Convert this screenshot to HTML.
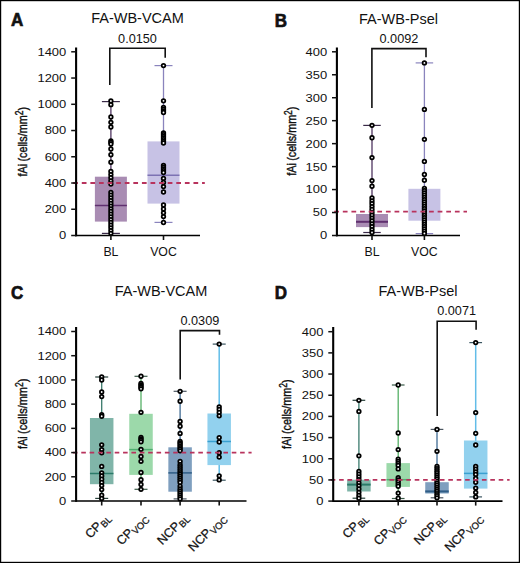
<!DOCTYPE html>
<html><head><meta charset="utf-8"><style>
html,body{margin:0;padding:0;background:#fff;overflow:hidden;}
svg{display:block;}
text{font-family:"Liberation Sans", sans-serif;fill:#111;}
</style></head><body>
<svg width="520" height="563" viewBox="0 0 520 563">
<rect x="0" y="0" width="520" height="563" fill="#fff"/>
<g transform="translate(10.9,25.6) scale(1,1.06)"><text x="0" y="0" font-size="17" font-weight="bold" stroke="#111" stroke-width="0.65">A</text></g>
<text x="137.5" y="23" font-size="14.5" text-anchor="middle" font-weight="normal" >FA-WB-VCAM</text>
<g transform="translate(27.3,0) rotate(-90)"><text x="-176.6" y="0" font-size="13.5" stroke="#111" stroke-width="0.4" lengthAdjust="spacingAndGlyphs" textLength="12.8">fAi</text><text x="-161.6" y="0" font-size="13.5" stroke="#111" stroke-width="0.4" lengthAdjust="spacingAndGlyphs" textLength="54.6">(cells/mm<tspan font-size="10.5" dy="-4.3">2</tspan><tspan dy="4.3">)</tspan></text></g>
<line x1="110.9" y1="101.6" x2="110.9" y2="233.4" stroke="#4f3560" stroke-width="1.3" />
<rect x="94.9" y="176.7" width="32" height="44.9" fill="#a98cb3"/>
<line x1="101.9" y1="101.6" x2="119.9" y2="101.6" stroke="#3a2a48" stroke-width="1.2" />
<line x1="101.9" y1="233.4" x2="119.9" y2="233.4" stroke="#3a2a48" stroke-width="1.2" />
<line x1="94.9" y1="205.4" x2="126.9" y2="205.4" stroke="#60306f" stroke-width="1.5" />
<line x1="163.5" y1="65.6" x2="163.5" y2="222.4" stroke="#8a84bd" stroke-width="1.3" />
<rect x="147.5" y="141.4" width="32" height="62.2" fill="#c7c2e5"/>
<line x1="154.5" y1="65.6" x2="172.5" y2="65.6" stroke="#8a84bd" stroke-width="1.2" />
<line x1="154.5" y1="222.4" x2="172.5" y2="222.4" stroke="#8a84bd" stroke-width="1.2" />
<line x1="147.5" y1="175.3" x2="179.5" y2="175.3" stroke="#7d72b3" stroke-width="1.5" />
<circle cx="110.9" cy="101" r="1.8" fill="#fff" stroke="#000" stroke-width="1.75"/>
<circle cx="110.9" cy="104.7" r="1.8" fill="#fff" stroke="#000" stroke-width="1.75"/>
<circle cx="110.9" cy="117" r="1.8" fill="#fff" stroke="#000" stroke-width="1.75"/>
<circle cx="110.9" cy="122.3" r="1.8" fill="#fff" stroke="#000" stroke-width="1.75"/>
<circle cx="110.9" cy="127" r="1.8" fill="#fff" stroke="#000" stroke-width="1.75"/>
<circle cx="110.9" cy="140.8" r="1.8" fill="#fff" stroke="#000" stroke-width="1.75"/>
<circle cx="110.9" cy="142.3" r="1.8" fill="#fff" stroke="#000" stroke-width="1.75"/>
<circle cx="110.9" cy="144" r="1.8" fill="#fff" stroke="#000" stroke-width="1.75"/>
<circle cx="110.9" cy="149" r="1.8" fill="#fff" stroke="#000" stroke-width="1.75"/>
<circle cx="110.9" cy="154.7" r="1.8" fill="#fff" stroke="#000" stroke-width="1.75"/>
<circle cx="110.9" cy="162.2" r="1.8" fill="#fff" stroke="#000" stroke-width="1.75"/>
<circle cx="110.9" cy="171.5" r="1.8" fill="#fff" stroke="#000" stroke-width="1.75"/>
<circle cx="110.9" cy="174.62" r="1.8" fill="#fff" stroke="#000" stroke-width="1.75"/>
<circle cx="110.9" cy="177.75" r="1.8" fill="#fff" stroke="#000" stroke-width="1.75"/>
<circle cx="110.9" cy="180.88" r="1.8" fill="#fff" stroke="#000" stroke-width="1.75"/>
<circle cx="110.9" cy="184" r="1.8" fill="#fff" stroke="#000" stroke-width="1.75"/>
<circle cx="110.9" cy="192.5" r="1.8" fill="#fff" stroke="#000" stroke-width="1.75"/>
<circle cx="110.9" cy="195.22" r="1.8" fill="#fff" stroke="#000" stroke-width="1.75"/>
<circle cx="110.9" cy="197.94" r="1.8" fill="#fff" stroke="#000" stroke-width="1.75"/>
<circle cx="110.9" cy="200.66" r="1.8" fill="#fff" stroke="#000" stroke-width="1.75"/>
<circle cx="110.9" cy="203.38" r="1.8" fill="#fff" stroke="#000" stroke-width="1.75"/>
<circle cx="110.9" cy="206.1" r="1.8" fill="#fff" stroke="#000" stroke-width="1.75"/>
<circle cx="110.9" cy="208.82" r="1.8" fill="#fff" stroke="#000" stroke-width="1.75"/>
<circle cx="110.9" cy="211.54" r="1.8" fill="#fff" stroke="#000" stroke-width="1.75"/>
<circle cx="110.9" cy="214.26" r="1.8" fill="#fff" stroke="#000" stroke-width="1.75"/>
<circle cx="110.9" cy="216.98" r="1.8" fill="#fff" stroke="#000" stroke-width="1.75"/>
<circle cx="110.9" cy="219.7" r="1.8" fill="#fff" stroke="#000" stroke-width="1.75"/>
<circle cx="110.9" cy="222.42" r="1.8" fill="#fff" stroke="#000" stroke-width="1.75"/>
<circle cx="110.9" cy="225.14" r="1.8" fill="#fff" stroke="#000" stroke-width="1.75"/>
<circle cx="110.9" cy="227.86" r="1.8" fill="#fff" stroke="#000" stroke-width="1.75"/>
<circle cx="110.9" cy="230.58" r="1.8" fill="#fff" stroke="#000" stroke-width="1.75"/>
<circle cx="110.9" cy="233.3" r="1.8" fill="#fff" stroke="#000" stroke-width="1.75"/>
<circle cx="163.5" cy="65.6" r="1.8" fill="#fff" stroke="#000" stroke-width="1.75"/>
<circle cx="163.5" cy="100.8" r="1.8" fill="#fff" stroke="#000" stroke-width="1.75"/>
<circle cx="163.5" cy="107.5" r="1.8" fill="#fff" stroke="#000" stroke-width="1.75"/>
<circle cx="163.5" cy="109.17" r="1.8" fill="#fff" stroke="#000" stroke-width="1.75"/>
<circle cx="163.5" cy="110.83" r="1.8" fill="#fff" stroke="#000" stroke-width="1.75"/>
<circle cx="163.5" cy="112.5" r="1.8" fill="#fff" stroke="#000" stroke-width="1.75"/>
<circle cx="163.5" cy="133" r="1.8" fill="#fff" stroke="#000" stroke-width="1.75"/>
<circle cx="163.5" cy="134.67" r="1.8" fill="#fff" stroke="#000" stroke-width="1.75"/>
<circle cx="163.5" cy="136.33" r="1.8" fill="#fff" stroke="#000" stroke-width="1.75"/>
<circle cx="163.5" cy="138" r="1.8" fill="#fff" stroke="#000" stroke-width="1.75"/>
<circle cx="163.5" cy="139.67" r="1.8" fill="#fff" stroke="#000" stroke-width="1.75"/>
<circle cx="163.5" cy="141.33" r="1.8" fill="#fff" stroke="#000" stroke-width="1.75"/>
<circle cx="163.5" cy="143" r="1.8" fill="#fff" stroke="#000" stroke-width="1.75"/>
<circle cx="163.5" cy="165.5" r="1.8" fill="#fff" stroke="#000" stroke-width="1.75"/>
<circle cx="163.5" cy="167.25" r="1.8" fill="#fff" stroke="#000" stroke-width="1.75"/>
<circle cx="163.5" cy="169" r="1.8" fill="#fff" stroke="#000" stroke-width="1.75"/>
<circle cx="163.5" cy="170.75" r="1.8" fill="#fff" stroke="#000" stroke-width="1.75"/>
<circle cx="163.5" cy="172.5" r="1.8" fill="#fff" stroke="#000" stroke-width="1.75"/>
<circle cx="163.5" cy="178.4" r="1.8" fill="#fff" stroke="#000" stroke-width="1.75"/>
<circle cx="163.5" cy="182.5" r="1.8" fill="#fff" stroke="#000" stroke-width="1.75"/>
<circle cx="163.5" cy="186.6" r="1.8" fill="#fff" stroke="#000" stroke-width="1.75"/>
<circle cx="163.5" cy="192" r="1.8" fill="#fff" stroke="#000" stroke-width="1.75"/>
<circle cx="163.5" cy="205" r="1.8" fill="#fff" stroke="#000" stroke-width="1.75"/>
<circle cx="163.5" cy="209" r="1.8" fill="#fff" stroke="#000" stroke-width="1.75"/>
<circle cx="163.5" cy="212.8" r="1.8" fill="#fff" stroke="#000" stroke-width="1.75"/>
<circle cx="163.5" cy="216.6" r="1.8" fill="#fff" stroke="#000" stroke-width="1.75"/>
<circle cx="163.5" cy="222.5" r="1.8" fill="#fff" stroke="#000" stroke-width="1.75"/>
<line x1="73.2" y1="183.01" x2="204.8" y2="183.01" stroke="#b8335d" stroke-width="1.8" stroke-dasharray="4.72 3.87"/>
<line x1="76.1" y1="47.5" x2="76.1" y2="236.3" stroke="#000" stroke-width="2.1" />
<line x1="75.1" y1="235.5" x2="200" y2="235.5" stroke="#000" stroke-width="1.7" />
<line x1="71.2" y1="235.5" x2="76.1" y2="235.5" stroke="#111" stroke-width="1.5" />
<g transform="translate(66.3,239.4) scale(1.03,0.93)"><text x="0" y="0" font-size="12.6" text-anchor="end">0</text></g>
<line x1="71.2" y1="209.26" x2="76.1" y2="209.26" stroke="#111" stroke-width="1.5" />
<g transform="translate(66.3,213.16) scale(1.03,0.93)"><text x="0" y="0" font-size="12.6" text-anchor="end">200</text></g>
<line x1="71.2" y1="183.01" x2="76.1" y2="183.01" stroke="#111" stroke-width="1.5" />
<g transform="translate(66.3,186.91) scale(1.03,0.93)"><text x="0" y="0" font-size="12.6" text-anchor="end">400</text></g>
<line x1="71.2" y1="156.77" x2="76.1" y2="156.77" stroke="#111" stroke-width="1.5" />
<g transform="translate(66.3,160.67) scale(1.03,0.93)"><text x="0" y="0" font-size="12.6" text-anchor="end">600</text></g>
<line x1="71.2" y1="130.53" x2="76.1" y2="130.53" stroke="#111" stroke-width="1.5" />
<g transform="translate(66.3,134.43) scale(1.03,0.93)"><text x="0" y="0" font-size="12.6" text-anchor="end">800</text></g>
<line x1="71.2" y1="104.29" x2="76.1" y2="104.29" stroke="#111" stroke-width="1.5" />
<g transform="translate(66.3,108.19) scale(1.03,0.93)"><text x="0" y="0" font-size="12.6" text-anchor="end">1000</text></g>
<line x1="71.2" y1="78.04" x2="76.1" y2="78.04" stroke="#111" stroke-width="1.5" />
<g transform="translate(66.3,81.94) scale(1.03,0.93)"><text x="0" y="0" font-size="12.6" text-anchor="end">1200</text></g>
<line x1="71.2" y1="51.8" x2="76.1" y2="51.8" stroke="#111" stroke-width="1.5" />
<g transform="translate(66.3,55.7) scale(1.03,0.93)"><text x="0" y="0" font-size="12.6" text-anchor="end">1400</text></g>
<line x1="110.9" y1="235.5" x2="110.9" y2="240" stroke="#111" stroke-width="1.6" />
<line x1="163.5" y1="235.5" x2="163.5" y2="240" stroke="#111" stroke-width="1.6" />
<text x="110.9" y="255.5" font-size="12.3" text-anchor="middle" font-weight="normal" >BL</text>
<text x="163.5" y="255.5" font-size="12.3" text-anchor="middle" font-weight="normal" >VOC</text>
<polyline points="109.8,85 109.8,48.2 165.2,48.2 165.2,57.7" fill="none" stroke="#111" stroke-width="1.6"/>
<text x="137.5" y="42.7" font-size="12.7" text-anchor="middle" font-weight="normal" >0.0150</text>
<g transform="translate(274.8,26.6) scale(1,1.06)"><text x="0" y="0" font-size="17" font-weight="bold" stroke="#111" stroke-width="0.65">B</text></g>
<text x="398.5" y="24.4" font-size="14.5" text-anchor="middle" font-weight="normal" >FA-WB-Psel</text>
<g transform="translate(296.4,0) rotate(-90)"><text x="-175.8" y="0" font-size="13.5" stroke="#111" stroke-width="0.4" lengthAdjust="spacingAndGlyphs" textLength="12.8">fAi</text><text x="-160.8" y="0" font-size="13.5" stroke="#111" stroke-width="0.4" lengthAdjust="spacingAndGlyphs" textLength="54.1">(cells/mm<tspan font-size="10.5" dy="-4.3">2</tspan><tspan dy="4.3">)</tspan></text></g>
<line x1="372" y1="125.4" x2="372" y2="232.5" stroke="#4f3560" stroke-width="1.3" />
<rect x="356" y="214" width="32" height="13.1" fill="#a98cb3"/>
<line x1="363.25" y1="125.4" x2="380.75" y2="125.4" stroke="#3a2a48" stroke-width="1.2" />
<line x1="363.25" y1="232.5" x2="380.75" y2="232.5" stroke="#3a2a48" stroke-width="1.2" />
<line x1="356" y1="221.8" x2="388" y2="221.8" stroke="#60306f" stroke-width="2" />
<line x1="424.4" y1="62.9" x2="424.4" y2="233.6" stroke="#8a84bd" stroke-width="1.3" />
<rect x="408.4" y="188.8" width="32" height="31.9" fill="#c7c2e5"/>
<line x1="415.65" y1="62.9" x2="433.15" y2="62.9" stroke="#8a84bd" stroke-width="1.2" />
<line x1="415.65" y1="233.6" x2="433.15" y2="233.6" stroke="#8a84bd" stroke-width="1.2" />
<line x1="408.4" y1="211.8" x2="440.4" y2="211.8" stroke="#c7c2e5" stroke-width="1" />
<circle cx="372" cy="125.3" r="1.8" fill="#fff" stroke="#000" stroke-width="1.75"/>
<circle cx="372" cy="137.7" r="1.8" fill="#fff" stroke="#000" stroke-width="1.75"/>
<circle cx="372" cy="157.6" r="1.8" fill="#fff" stroke="#000" stroke-width="1.75"/>
<circle cx="372" cy="180.6" r="1.8" fill="#fff" stroke="#000" stroke-width="1.75"/>
<circle cx="372" cy="186.2" r="1.8" fill="#fff" stroke="#000" stroke-width="1.75"/>
<circle cx="372" cy="198" r="1.8" fill="#fff" stroke="#000" stroke-width="1.75"/>
<circle cx="372" cy="200.88" r="1.8" fill="#fff" stroke="#000" stroke-width="1.75"/>
<circle cx="372" cy="203.75" r="1.8" fill="#fff" stroke="#000" stroke-width="1.75"/>
<circle cx="372" cy="206.62" r="1.8" fill="#fff" stroke="#000" stroke-width="1.75"/>
<circle cx="372" cy="209.5" r="1.8" fill="#fff" stroke="#000" stroke-width="1.75"/>
<circle cx="372" cy="212.38" r="1.8" fill="#fff" stroke="#000" stroke-width="1.75"/>
<circle cx="372" cy="215.25" r="1.8" fill="#fff" stroke="#000" stroke-width="1.75"/>
<circle cx="372" cy="218.12" r="1.8" fill="#fff" stroke="#000" stroke-width="1.75"/>
<circle cx="372" cy="221" r="1.8" fill="#fff" stroke="#000" stroke-width="1.75"/>
<circle cx="372" cy="223.88" r="1.8" fill="#fff" stroke="#000" stroke-width="1.75"/>
<circle cx="372" cy="226.75" r="1.8" fill="#fff" stroke="#000" stroke-width="1.75"/>
<circle cx="372" cy="229.62" r="1.8" fill="#fff" stroke="#000" stroke-width="1.75"/>
<circle cx="372" cy="232.5" r="1.8" fill="#fff" stroke="#000" stroke-width="1.75"/>
<circle cx="424.4" cy="62.9" r="1.8" fill="#fff" stroke="#000" stroke-width="1.75"/>
<circle cx="424.4" cy="109.4" r="1.8" fill="#fff" stroke="#000" stroke-width="1.75"/>
<circle cx="424.4" cy="139.3" r="1.8" fill="#fff" stroke="#000" stroke-width="1.75"/>
<circle cx="424.4" cy="161.4" r="1.8" fill="#fff" stroke="#000" stroke-width="1.75"/>
<circle cx="424.4" cy="174.5" r="1.8" fill="#fff" stroke="#000" stroke-width="1.75"/>
<circle cx="424.4" cy="180.2" r="1.8" fill="#fff" stroke="#000" stroke-width="1.75"/>
<circle cx="424.4" cy="188.3" r="1.8" fill="#fff" stroke="#000" stroke-width="1.75"/>
<circle cx="424.4" cy="190.56" r="1.8" fill="#fff" stroke="#000" stroke-width="1.75"/>
<circle cx="424.4" cy="192.82" r="1.8" fill="#fff" stroke="#000" stroke-width="1.75"/>
<circle cx="424.4" cy="195.08" r="1.8" fill="#fff" stroke="#000" stroke-width="1.75"/>
<circle cx="424.4" cy="197.34" r="1.8" fill="#fff" stroke="#000" stroke-width="1.75"/>
<circle cx="424.4" cy="199.6" r="1.8" fill="#fff" stroke="#000" stroke-width="1.75"/>
<circle cx="424.4" cy="201.86" r="1.8" fill="#fff" stroke="#000" stroke-width="1.75"/>
<circle cx="424.4" cy="204.12" r="1.8" fill="#fff" stroke="#000" stroke-width="1.75"/>
<circle cx="424.4" cy="206.38" r="1.8" fill="#fff" stroke="#000" stroke-width="1.75"/>
<circle cx="424.4" cy="208.64" r="1.8" fill="#fff" stroke="#000" stroke-width="1.75"/>
<circle cx="424.4" cy="210.9" r="1.8" fill="#fff" stroke="#000" stroke-width="1.75"/>
<circle cx="424.4" cy="213.16" r="1.8" fill="#fff" stroke="#000" stroke-width="1.75"/>
<circle cx="424.4" cy="215.42" r="1.8" fill="#fff" stroke="#000" stroke-width="1.75"/>
<circle cx="424.4" cy="217.68" r="1.8" fill="#fff" stroke="#000" stroke-width="1.75"/>
<circle cx="424.4" cy="219.94" r="1.8" fill="#fff" stroke="#000" stroke-width="1.75"/>
<circle cx="424.4" cy="222.2" r="1.8" fill="#fff" stroke="#000" stroke-width="1.75"/>
<circle cx="424.4" cy="224.46" r="1.8" fill="#fff" stroke="#000" stroke-width="1.75"/>
<circle cx="424.4" cy="226.72" r="1.8" fill="#fff" stroke="#000" stroke-width="1.75"/>
<circle cx="424.4" cy="228.98" r="1.8" fill="#fff" stroke="#000" stroke-width="1.75"/>
<circle cx="424.4" cy="231.24" r="1.8" fill="#fff" stroke="#000" stroke-width="1.75"/>
<circle cx="424.4" cy="233.5" r="1.8" fill="#fff" stroke="#000" stroke-width="1.75"/>
<line x1="334.2" y1="211.62" x2="467" y2="211.62" stroke="#b8335d" stroke-width="1.8" stroke-dasharray="4.74 3.88"/>
<line x1="336.9" y1="47.5" x2="336.9" y2="236.3" stroke="#000" stroke-width="2.1" />
<line x1="335.9" y1="235.5" x2="460" y2="235.5" stroke="#000" stroke-width="1.7" />
<line x1="332" y1="235.5" x2="336.9" y2="235.5" stroke="#111" stroke-width="1.5" />
<g transform="translate(327.1,239.4) scale(1.03,0.93)"><text x="0" y="0" font-size="12.6" text-anchor="end">0</text></g>
<line x1="332" y1="212.54" x2="336.9" y2="212.54" stroke="#111" stroke-width="1.5" />
<g transform="translate(327.1,216.44) scale(1.03,0.93)"><text x="0" y="0" font-size="12.6" text-anchor="end">50</text></g>
<line x1="332" y1="189.57" x2="336.9" y2="189.57" stroke="#111" stroke-width="1.5" />
<g transform="translate(327.1,193.47) scale(1.03,0.93)"><text x="0" y="0" font-size="12.6" text-anchor="end">100</text></g>
<line x1="332" y1="166.61" x2="336.9" y2="166.61" stroke="#111" stroke-width="1.5" />
<g transform="translate(327.1,170.51) scale(1.03,0.93)"><text x="0" y="0" font-size="12.6" text-anchor="end">150</text></g>
<line x1="332" y1="143.65" x2="336.9" y2="143.65" stroke="#111" stroke-width="1.5" />
<g transform="translate(327.1,147.55) scale(1.03,0.93)"><text x="0" y="0" font-size="12.6" text-anchor="end">200</text></g>
<line x1="332" y1="120.69" x2="336.9" y2="120.69" stroke="#111" stroke-width="1.5" />
<g transform="translate(327.1,124.59) scale(1.03,0.93)"><text x="0" y="0" font-size="12.6" text-anchor="end">250</text></g>
<line x1="332" y1="97.72" x2="336.9" y2="97.72" stroke="#111" stroke-width="1.5" />
<g transform="translate(327.1,101.62) scale(1.03,0.93)"><text x="0" y="0" font-size="12.6" text-anchor="end">300</text></g>
<line x1="332" y1="74.76" x2="336.9" y2="74.76" stroke="#111" stroke-width="1.5" />
<g transform="translate(327.1,78.66) scale(1.03,0.93)"><text x="0" y="0" font-size="12.6" text-anchor="end">350</text></g>
<line x1="332" y1="51.8" x2="336.9" y2="51.8" stroke="#111" stroke-width="1.5" />
<g transform="translate(327.1,55.7) scale(1.03,0.93)"><text x="0" y="0" font-size="12.6" text-anchor="end">400</text></g>
<line x1="372" y1="235.5" x2="372" y2="240" stroke="#111" stroke-width="1.6" />
<line x1="424.4" y1="235.5" x2="424.4" y2="240" stroke="#111" stroke-width="1.6" />
<text x="372" y="255.5" font-size="12.3" text-anchor="middle" font-weight="normal" >BL</text>
<text x="424.4" y="255.5" font-size="12.3" text-anchor="middle" font-weight="normal" >VOC</text>
<polyline points="371.9,108 371.9,48.6 426,48.6 426,57.2" fill="none" stroke="#111" stroke-width="1.6"/>
<text x="398.95" y="43.3" font-size="12.7" text-anchor="middle" font-weight="normal" >0.0092</text>
<g transform="translate(11.1,298.9) scale(1,1.06)"><text x="0" y="0" font-size="17" font-weight="bold" stroke="#111" stroke-width="0.65">C</text></g>
<text x="161" y="296" font-size="14.5" text-anchor="middle" font-weight="normal" >FA-WB-VCAM</text>
<g transform="translate(26.8,0) rotate(-90)"><text x="-449" y="0" font-size="13.5" stroke="#111" stroke-width="0.4" lengthAdjust="spacingAndGlyphs" textLength="12.8">fAi</text><text x="-434" y="0" font-size="13.5" stroke="#111" stroke-width="0.4" lengthAdjust="spacingAndGlyphs" textLength="55.4">(cells/mm<tspan font-size="10.5" dy="-4.3">2</tspan><tspan dy="4.3">)</tspan></text></g>
<line x1="101.7" y1="377" x2="101.7" y2="498.4" stroke="#3a7a6c" stroke-width="1.3" />
<rect x="89.95" y="418" width="23.5" height="66.2" fill="#80b5a9"/>
<line x1="95.2" y1="377" x2="108.2" y2="377" stroke="#27403a" stroke-width="1.2" />
<line x1="95.2" y1="498.4" x2="108.2" y2="498.4" stroke="#27403a" stroke-width="1.2" />
<line x1="89.95" y1="473.5" x2="113.45" y2="473.5" stroke="#2b7a69" stroke-width="1.5" />
<line x1="141" y1="376.3" x2="141" y2="489.3" stroke="#56b066" stroke-width="1.3" />
<rect x="129.25" y="413.8" width="23.5" height="61.1" fill="#9cd9aa"/>
<line x1="134.5" y1="376.3" x2="147.5" y2="376.3" stroke="#3a5a48" stroke-width="1.2" />
<line x1="134.5" y1="489.3" x2="147.5" y2="489.3" stroke="#3a5a48" stroke-width="1.2" />
<line x1="129.25" y1="449.6" x2="152.75" y2="449.6" stroke="#4fae70" stroke-width="1.5" />
<line x1="180.1" y1="391.3" x2="180.1" y2="498.9" stroke="#3f6a92" stroke-width="1.3" />
<rect x="168.35" y="447.3" width="23.5" height="44.4" fill="#7f9fbf"/>
<line x1="173.6" y1="391.3" x2="186.6" y2="391.3" stroke="#4a5560" stroke-width="1.2" />
<line x1="173.6" y1="498.9" x2="186.6" y2="498.9" stroke="#4a5560" stroke-width="1.2" />
<line x1="168.35" y1="472.9" x2="191.85" y2="472.9" stroke="#2f5d86" stroke-width="1.5" />
<line x1="219.2" y1="344.1" x2="219.2" y2="480.2" stroke="#62bde8" stroke-width="1.5" />
<rect x="207.45" y="413.5" width="23.5" height="51.6" fill="#92d1ee"/>
<line x1="212.7" y1="344.1" x2="225.7" y2="344.1" stroke="#3a5560" stroke-width="1.2" />
<line x1="212.7" y1="480.2" x2="225.7" y2="480.2" stroke="#3a5560" stroke-width="1.2" />
<line x1="207.45" y1="441.5" x2="230.95" y2="441.5" stroke="#3aa0d0" stroke-width="1.5" />
<circle cx="101.7" cy="376.9" r="1.8" fill="#fff" stroke="#000" stroke-width="1.75"/>
<circle cx="101.7" cy="380" r="1.8" fill="#fff" stroke="#000" stroke-width="1.75"/>
<circle cx="101.7" cy="392" r="1.8" fill="#fff" stroke="#000" stroke-width="1.75"/>
<circle cx="101.7" cy="396.6" r="1.8" fill="#fff" stroke="#000" stroke-width="1.75"/>
<circle cx="101.7" cy="414.6" r="1.8" fill="#fff" stroke="#000" stroke-width="1.75"/>
<circle cx="101.7" cy="416.2" r="1.8" fill="#fff" stroke="#000" stroke-width="1.75"/>
<circle cx="101.7" cy="444.8" r="1.8" fill="#fff" stroke="#000" stroke-width="1.75"/>
<circle cx="101.7" cy="449.6" r="1.8" fill="#fff" stroke="#000" stroke-width="1.75"/>
<circle cx="101.7" cy="452.8" r="1.8" fill="#fff" stroke="#000" stroke-width="1.75"/>
<circle cx="101.7" cy="466.4" r="1.8" fill="#fff" stroke="#000" stroke-width="1.75"/>
<circle cx="101.7" cy="472.8" r="1.8" fill="#fff" stroke="#000" stroke-width="1.75"/>
<circle cx="101.7" cy="476" r="1.8" fill="#fff" stroke="#000" stroke-width="1.75"/>
<circle cx="101.7" cy="479.2" r="1.8" fill="#fff" stroke="#000" stroke-width="1.75"/>
<circle cx="101.7" cy="482.4" r="1.8" fill="#fff" stroke="#000" stroke-width="1.75"/>
<circle cx="101.7" cy="485.6" r="1.8" fill="#fff" stroke="#000" stroke-width="1.75"/>
<circle cx="101.7" cy="489.6" r="1.8" fill="#fff" stroke="#000" stroke-width="1.75"/>
<circle cx="101.7" cy="495.2" r="1.8" fill="#fff" stroke="#000" stroke-width="1.75"/>
<circle cx="101.7" cy="498.4" r="1.8" fill="#fff" stroke="#000" stroke-width="1.75"/>
<circle cx="141" cy="376.2" r="1.8" fill="#fff" stroke="#000" stroke-width="1.75"/>
<circle cx="141" cy="383.5" r="1.8" fill="#fff" stroke="#000" stroke-width="1.75"/>
<circle cx="141" cy="384.82" r="1.8" fill="#fff" stroke="#000" stroke-width="1.75"/>
<circle cx="141" cy="386.15" r="1.8" fill="#fff" stroke="#000" stroke-width="1.75"/>
<circle cx="141" cy="387.48" r="1.8" fill="#fff" stroke="#000" stroke-width="1.75"/>
<circle cx="141" cy="388.8" r="1.8" fill="#fff" stroke="#000" stroke-width="1.75"/>
<circle cx="141" cy="412.3" r="1.8" fill="#fff" stroke="#000" stroke-width="1.75"/>
<circle cx="141" cy="437.5" r="1.8" fill="#fff" stroke="#000" stroke-width="1.75"/>
<circle cx="141" cy="438.93" r="1.8" fill="#fff" stroke="#000" stroke-width="1.75"/>
<circle cx="141" cy="440.37" r="1.8" fill="#fff" stroke="#000" stroke-width="1.75"/>
<circle cx="141" cy="441.8" r="1.8" fill="#fff" stroke="#000" stroke-width="1.75"/>
<circle cx="141" cy="449.3" r="1.8" fill="#fff" stroke="#000" stroke-width="1.75"/>
<circle cx="141" cy="456.5" r="1.8" fill="#fff" stroke="#000" stroke-width="1.75"/>
<circle cx="141" cy="461.3" r="1.8" fill="#fff" stroke="#000" stroke-width="1.75"/>
<circle cx="141" cy="472.5" r="1.8" fill="#fff" stroke="#000" stroke-width="1.75"/>
<circle cx="141" cy="479.7" r="1.8" fill="#fff" stroke="#000" stroke-width="1.75"/>
<circle cx="141" cy="484.5" r="1.8" fill="#fff" stroke="#000" stroke-width="1.75"/>
<circle cx="141" cy="489.3" r="1.8" fill="#fff" stroke="#000" stroke-width="1.75"/>
<circle cx="180.1" cy="391.3" r="1.8" fill="#fff" stroke="#000" stroke-width="1.75"/>
<circle cx="180.1" cy="401.2" r="1.8" fill="#fff" stroke="#000" stroke-width="1.75"/>
<circle cx="180.1" cy="421.4" r="1.8" fill="#fff" stroke="#000" stroke-width="1.75"/>
<circle cx="180.1" cy="426.2" r="1.8" fill="#fff" stroke="#000" stroke-width="1.75"/>
<circle cx="180.1" cy="433.4" r="1.8" fill="#fff" stroke="#000" stroke-width="1.75"/>
<circle cx="180.1" cy="441.4" r="1.8" fill="#fff" stroke="#000" stroke-width="1.75"/>
<circle cx="180.1" cy="442.97" r="1.8" fill="#fff" stroke="#000" stroke-width="1.75"/>
<circle cx="180.1" cy="444.53" r="1.8" fill="#fff" stroke="#000" stroke-width="1.75"/>
<circle cx="180.1" cy="446.1" r="1.8" fill="#fff" stroke="#000" stroke-width="1.75"/>
<circle cx="180.1" cy="447.67" r="1.8" fill="#fff" stroke="#000" stroke-width="1.75"/>
<circle cx="180.1" cy="449.23" r="1.8" fill="#fff" stroke="#000" stroke-width="1.75"/>
<circle cx="180.1" cy="450.8" r="1.8" fill="#fff" stroke="#000" stroke-width="1.75"/>
<circle cx="180.1" cy="461.4" r="1.8" fill="#fff" stroke="#000" stroke-width="1.75"/>
<circle cx="180.1" cy="464.6" r="1.8" fill="#fff" stroke="#000" stroke-width="1.75"/>
<circle cx="180.1" cy="466.59" r="1.8" fill="#fff" stroke="#000" stroke-width="1.75"/>
<circle cx="180.1" cy="468.58" r="1.8" fill="#fff" stroke="#000" stroke-width="1.75"/>
<circle cx="180.1" cy="470.57" r="1.8" fill="#fff" stroke="#000" stroke-width="1.75"/>
<circle cx="180.1" cy="472.56" r="1.8" fill="#fff" stroke="#000" stroke-width="1.75"/>
<circle cx="180.1" cy="474.54" r="1.8" fill="#fff" stroke="#000" stroke-width="1.75"/>
<circle cx="180.1" cy="476.53" r="1.8" fill="#fff" stroke="#000" stroke-width="1.75"/>
<circle cx="180.1" cy="478.52" r="1.8" fill="#fff" stroke="#000" stroke-width="1.75"/>
<circle cx="180.1" cy="480.51" r="1.8" fill="#fff" stroke="#000" stroke-width="1.75"/>
<circle cx="180.1" cy="482.5" r="1.8" fill="#fff" stroke="#000" stroke-width="1.75"/>
<circle cx="180.1" cy="486.2" r="1.8" fill="#fff" stroke="#000" stroke-width="1.75"/>
<circle cx="180.1" cy="489" r="1.8" fill="#fff" stroke="#000" stroke-width="1.75"/>
<circle cx="180.1" cy="490.98" r="1.8" fill="#fff" stroke="#000" stroke-width="1.75"/>
<circle cx="180.1" cy="492.96" r="1.8" fill="#fff" stroke="#000" stroke-width="1.75"/>
<circle cx="180.1" cy="494.94" r="1.8" fill="#fff" stroke="#000" stroke-width="1.75"/>
<circle cx="180.1" cy="496.92" r="1.8" fill="#fff" stroke="#000" stroke-width="1.75"/>
<circle cx="180.1" cy="498.9" r="1.8" fill="#fff" stroke="#000" stroke-width="1.75"/>
<circle cx="219.2" cy="344.1" r="1.8" fill="#fff" stroke="#000" stroke-width="1.75"/>
<circle cx="219.2" cy="406.8" r="1.8" fill="#fff" stroke="#000" stroke-width="1.75"/>
<circle cx="219.2" cy="409.5" r="1.8" fill="#fff" stroke="#000" stroke-width="1.75"/>
<circle cx="219.2" cy="412.5" r="1.8" fill="#fff" stroke="#000" stroke-width="1.75"/>
<circle cx="219.2" cy="415.8" r="1.8" fill="#fff" stroke="#000" stroke-width="1.75"/>
<circle cx="219.2" cy="437.6" r="1.8" fill="#fff" stroke="#000" stroke-width="1.75"/>
<circle cx="219.2" cy="442" r="1.8" fill="#fff" stroke="#000" stroke-width="1.75"/>
<circle cx="219.2" cy="452.7" r="1.8" fill="#fff" stroke="#000" stroke-width="1.75"/>
<circle cx="219.2" cy="457.1" r="1.8" fill="#fff" stroke="#000" stroke-width="1.75"/>
<circle cx="219.2" cy="475.8" r="1.8" fill="#fff" stroke="#000" stroke-width="1.75"/>
<circle cx="219.2" cy="479.9" r="1.8" fill="#fff" stroke="#000" stroke-width="1.75"/>
<line x1="72.9" y1="452.57" x2="251.6" y2="452.57" stroke="#b8335d" stroke-width="1.8" stroke-dasharray="4.60 3.76"/>
<line x1="76.1" y1="327" x2="76.1" y2="501.8" stroke="#000" stroke-width="2.1" />
<line x1="75.1" y1="501" x2="246.5" y2="501" stroke="#000" stroke-width="1.7" />
<line x1="71.2" y1="501" x2="76.1" y2="501" stroke="#111" stroke-width="1.5" />
<g transform="translate(66.3,504.9) scale(1.03,0.93)"><text x="0" y="0" font-size="12.6" text-anchor="end">0</text></g>
<line x1="71.2" y1="476.79" x2="76.1" y2="476.79" stroke="#111" stroke-width="1.5" />
<g transform="translate(66.3,480.69) scale(1.03,0.93)"><text x="0" y="0" font-size="12.6" text-anchor="end">200</text></g>
<line x1="71.2" y1="452.57" x2="76.1" y2="452.57" stroke="#111" stroke-width="1.5" />
<g transform="translate(66.3,456.47) scale(1.03,0.93)"><text x="0" y="0" font-size="12.6" text-anchor="end">400</text></g>
<line x1="71.2" y1="428.36" x2="76.1" y2="428.36" stroke="#111" stroke-width="1.5" />
<g transform="translate(66.3,432.26) scale(1.03,0.93)"><text x="0" y="0" font-size="12.6" text-anchor="end">600</text></g>
<line x1="71.2" y1="404.14" x2="76.1" y2="404.14" stroke="#111" stroke-width="1.5" />
<g transform="translate(66.3,408.04) scale(1.03,0.93)"><text x="0" y="0" font-size="12.6" text-anchor="end">800</text></g>
<line x1="71.2" y1="379.93" x2="76.1" y2="379.93" stroke="#111" stroke-width="1.5" />
<g transform="translate(66.3,383.83) scale(1.03,0.93)"><text x="0" y="0" font-size="12.6" text-anchor="end">1000</text></g>
<line x1="71.2" y1="355.71" x2="76.1" y2="355.71" stroke="#111" stroke-width="1.5" />
<g transform="translate(66.3,359.61) scale(1.03,0.93)"><text x="0" y="0" font-size="12.6" text-anchor="end">1200</text></g>
<line x1="71.2" y1="331.5" x2="76.1" y2="331.5" stroke="#111" stroke-width="1.5" />
<g transform="translate(66.3,335.4) scale(1.03,0.93)"><text x="0" y="0" font-size="12.6" text-anchor="end">1400</text></g>
<line x1="101.7" y1="501" x2="101.7" y2="505.5" stroke="#111" stroke-width="1.6" />
<line x1="141" y1="501" x2="141" y2="505.5" stroke="#111" stroke-width="1.6" />
<line x1="180.1" y1="501" x2="180.1" y2="505.5" stroke="#111" stroke-width="1.6" />
<line x1="219.2" y1="501" x2="219.2" y2="505.5" stroke="#111" stroke-width="1.6" />
<text transform="translate(110.9,518.3) rotate(-45)" font-size="12.5" stroke="#111" stroke-width="0.25" text-anchor="end">CP<tspan font-size="9.5" dy="2.5" dx="0.3">BL</tspan></text>
<text transform="translate(148.6,518.78) rotate(-45)" font-size="12.5" stroke="#111" stroke-width="0.25" text-anchor="end">CP<tspan font-size="9.5" dy="2.5" dx="0.3">VOC</tspan></text>
<text transform="translate(189.3,518.3) rotate(-45)" font-size="12.5" stroke="#111" stroke-width="0.25" text-anchor="end">NCP<tspan font-size="9.5" dy="2.5" dx="0.3">BL</tspan></text>
<text transform="translate(226.8,518.78) rotate(-45)" font-size="12.5" stroke="#111" stroke-width="0.25" text-anchor="end">NCP<tspan font-size="9.5" dy="2.5" dx="0.3">VOC</tspan></text>
<polyline points="180.2,379.6 180.2,330.6 219.5,330.6 219.5,334.8" fill="none" stroke="#111" stroke-width="1.6"/>
<text x="199.85" y="325.2" font-size="12.7" text-anchor="middle" font-weight="normal" >0.0309</text>
<g transform="translate(274.8,298.5) scale(1,1.06)"><text x="0" y="0" font-size="17" font-weight="bold" stroke="#111" stroke-width="0.65">D</text></g>
<text x="418" y="296.3" font-size="14.5" text-anchor="middle" font-weight="normal" >FA-WB-Psel</text>
<g transform="translate(290.8,0) rotate(-90)"><text x="-449" y="0" font-size="13.5" stroke="#111" stroke-width="0.4" lengthAdjust="spacingAndGlyphs" textLength="12.8">fAi</text><text x="-434" y="0" font-size="13.5" stroke="#111" stroke-width="0.4" lengthAdjust="spacingAndGlyphs" textLength="54.6">(cells/mm<tspan font-size="10.5" dy="-4.3">2</tspan><tspan dy="4.3">)</tspan></text></g>
<line x1="358.9" y1="400.3" x2="358.9" y2="498.2" stroke="#3a7a6c" stroke-width="1.3" />
<rect x="347.15" y="479.7" width="23.5" height="11.8" fill="#80b5a9"/>
<line x1="352.55" y1="400.3" x2="365.25" y2="400.3" stroke="#27403a" stroke-width="1.2" />
<line x1="352.55" y1="498.2" x2="365.25" y2="498.2" stroke="#27403a" stroke-width="1.2" />
<line x1="347.15" y1="484.6" x2="370.65" y2="484.6" stroke="#2b7a69" stroke-width="2" />
<line x1="398.2" y1="385" x2="398.2" y2="498.5" stroke="#56b066" stroke-width="1.3" />
<rect x="386.45" y="463.1" width="23.5" height="23.8" fill="#9cd9aa"/>
<line x1="391.85" y1="385" x2="404.55" y2="385" stroke="#3a5a48" stroke-width="1.2" />
<line x1="391.85" y1="498.5" x2="404.55" y2="498.5" stroke="#3a5a48" stroke-width="1.2" />
<line x1="386.45" y1="479.7" x2="409.95" y2="479.7" stroke="#4fae70" stroke-width="1.5" />
<line x1="437" y1="429.4" x2="437" y2="497.8" stroke="#3f6a92" stroke-width="1.3" />
<rect x="425.25" y="482.2" width="23.5" height="11.3" fill="#7f9fbf"/>
<line x1="430.65" y1="429.4" x2="443.35" y2="429.4" stroke="#4a5560" stroke-width="1.2" />
<line x1="430.65" y1="497.8" x2="443.35" y2="497.8" stroke="#4a5560" stroke-width="1.2" />
<line x1="425.25" y1="491.4" x2="448.75" y2="491.4" stroke="#2f5d86" stroke-width="2" />
<line x1="475.7" y1="342.6" x2="475.7" y2="496.9" stroke="#62bde8" stroke-width="1.5" />
<rect x="463.95" y="440.5" width="23.5" height="48.1" fill="#92d1ee"/>
<line x1="469.35" y1="342.6" x2="482.05" y2="342.6" stroke="#3a5560" stroke-width="1.2" />
<line x1="469.35" y1="496.9" x2="482.05" y2="496.9" stroke="#3a5560" stroke-width="1.2" />
<line x1="463.95" y1="473.4" x2="487.45" y2="473.4" stroke="#3aa0d0" stroke-width="1.5" />
<circle cx="358.9" cy="400.3" r="1.8" fill="#fff" stroke="#000" stroke-width="1.75"/>
<circle cx="358.9" cy="411.4" r="1.8" fill="#fff" stroke="#000" stroke-width="1.75"/>
<circle cx="358.9" cy="455.8" r="1.8" fill="#fff" stroke="#000" stroke-width="1.75"/>
<circle cx="358.9" cy="471.5" r="1.8" fill="#fff" stroke="#000" stroke-width="1.75"/>
<circle cx="358.9" cy="474.2" r="1.8" fill="#fff" stroke="#000" stroke-width="1.75"/>
<circle cx="358.9" cy="476.9" r="1.8" fill="#fff" stroke="#000" stroke-width="1.75"/>
<circle cx="358.9" cy="479.7" r="1.8" fill="#fff" stroke="#000" stroke-width="1.75"/>
<circle cx="358.9" cy="482.8" r="1.8" fill="#fff" stroke="#000" stroke-width="1.75"/>
<circle cx="358.9" cy="485.8" r="1.8" fill="#fff" stroke="#000" stroke-width="1.75"/>
<circle cx="358.9" cy="488.9" r="1.8" fill="#fff" stroke="#000" stroke-width="1.75"/>
<circle cx="358.9" cy="492.3" r="1.8" fill="#fff" stroke="#000" stroke-width="1.75"/>
<circle cx="358.9" cy="495.4" r="1.8" fill="#fff" stroke="#000" stroke-width="1.75"/>
<circle cx="358.9" cy="498.2" r="1.8" fill="#fff" stroke="#000" stroke-width="1.75"/>
<circle cx="398.2" cy="385" r="1.8" fill="#fff" stroke="#000" stroke-width="1.75"/>
<circle cx="398.2" cy="433" r="1.8" fill="#fff" stroke="#000" stroke-width="1.75"/>
<circle cx="398.2" cy="449.6" r="1.8" fill="#fff" stroke="#000" stroke-width="1.75"/>
<circle cx="398.2" cy="459.2" r="1.8" fill="#fff" stroke="#000" stroke-width="1.75"/>
<circle cx="398.2" cy="461.3" r="1.8" fill="#fff" stroke="#000" stroke-width="1.75"/>
<circle cx="398.2" cy="463.3" r="1.8" fill="#fff" stroke="#000" stroke-width="1.75"/>
<circle cx="398.2" cy="465.4" r="1.8" fill="#fff" stroke="#000" stroke-width="1.75"/>
<circle cx="398.2" cy="468.9" r="1.8" fill="#fff" stroke="#000" stroke-width="1.75"/>
<circle cx="398.2" cy="477.7" r="1.8" fill="#fff" stroke="#000" stroke-width="1.75"/>
<circle cx="398.2" cy="480" r="1.8" fill="#fff" stroke="#000" stroke-width="1.75"/>
<circle cx="398.2" cy="482" r="1.8" fill="#fff" stroke="#000" stroke-width="1.75"/>
<circle cx="398.2" cy="484.2" r="1.8" fill="#fff" stroke="#000" stroke-width="1.75"/>
<circle cx="398.2" cy="486.2" r="1.8" fill="#fff" stroke="#000" stroke-width="1.75"/>
<circle cx="398.2" cy="493.1" r="1.8" fill="#fff" stroke="#000" stroke-width="1.75"/>
<circle cx="398.2" cy="498.2" r="1.8" fill="#fff" stroke="#000" stroke-width="1.75"/>
<circle cx="437" cy="429.4" r="1.8" fill="#fff" stroke="#000" stroke-width="1.75"/>
<circle cx="437" cy="451.3" r="1.8" fill="#fff" stroke="#000" stroke-width="1.75"/>
<circle cx="437" cy="466.5" r="1.8" fill="#fff" stroke="#000" stroke-width="1.75"/>
<circle cx="437" cy="468.59" r="1.8" fill="#fff" stroke="#000" stroke-width="1.75"/>
<circle cx="437" cy="470.67" r="1.8" fill="#fff" stroke="#000" stroke-width="1.75"/>
<circle cx="437" cy="472.76" r="1.8" fill="#fff" stroke="#000" stroke-width="1.75"/>
<circle cx="437" cy="474.85" r="1.8" fill="#fff" stroke="#000" stroke-width="1.75"/>
<circle cx="437" cy="476.93" r="1.8" fill="#fff" stroke="#000" stroke-width="1.75"/>
<circle cx="437" cy="479.02" r="1.8" fill="#fff" stroke="#000" stroke-width="1.75"/>
<circle cx="437" cy="481.11" r="1.8" fill="#fff" stroke="#000" stroke-width="1.75"/>
<circle cx="437" cy="483.19" r="1.8" fill="#fff" stroke="#000" stroke-width="1.75"/>
<circle cx="437" cy="485.28" r="1.8" fill="#fff" stroke="#000" stroke-width="1.75"/>
<circle cx="437" cy="487.37" r="1.8" fill="#fff" stroke="#000" stroke-width="1.75"/>
<circle cx="437" cy="489.45" r="1.8" fill="#fff" stroke="#000" stroke-width="1.75"/>
<circle cx="437" cy="491.54" r="1.8" fill="#fff" stroke="#000" stroke-width="1.75"/>
<circle cx="437" cy="493.63" r="1.8" fill="#fff" stroke="#000" stroke-width="1.75"/>
<circle cx="437" cy="495.71" r="1.8" fill="#fff" stroke="#000" stroke-width="1.75"/>
<circle cx="437" cy="497.8" r="1.8" fill="#fff" stroke="#000" stroke-width="1.75"/>
<circle cx="475.7" cy="342.6" r="1.8" fill="#fff" stroke="#000" stroke-width="1.75"/>
<circle cx="475.7" cy="412.6" r="1.8" fill="#fff" stroke="#000" stroke-width="1.75"/>
<circle cx="475.7" cy="433.3" r="1.8" fill="#fff" stroke="#000" stroke-width="1.75"/>
<circle cx="475.7" cy="445" r="1.8" fill="#fff" stroke="#000" stroke-width="1.75"/>
<circle cx="475.7" cy="466.5" r="1.8" fill="#fff" stroke="#000" stroke-width="1.75"/>
<circle cx="475.7" cy="469.2" r="1.8" fill="#fff" stroke="#000" stroke-width="1.75"/>
<circle cx="475.7" cy="471.8" r="1.8" fill="#fff" stroke="#000" stroke-width="1.75"/>
<circle cx="475.7" cy="474.4" r="1.8" fill="#fff" stroke="#000" stroke-width="1.75"/>
<circle cx="475.7" cy="478.3" r="1.8" fill="#fff" stroke="#000" stroke-width="1.75"/>
<circle cx="475.7" cy="482.2" r="1.8" fill="#fff" stroke="#000" stroke-width="1.75"/>
<circle cx="475.7" cy="488.1" r="1.8" fill="#fff" stroke="#000" stroke-width="1.75"/>
<circle cx="475.7" cy="492.4" r="1.8" fill="#fff" stroke="#000" stroke-width="1.75"/>
<circle cx="475.7" cy="496.9" r="1.8" fill="#fff" stroke="#000" stroke-width="1.75"/>
<line x1="330.7" y1="479.93" x2="509.6" y2="479.93" stroke="#b8335d" stroke-width="1.8" stroke-dasharray="4.62 3.78"/>
<line x1="333.2" y1="327" x2="333.2" y2="501.9" stroke="#000" stroke-width="2.1" />
<line x1="332.2" y1="501.1" x2="502.5" y2="501.1" stroke="#000" stroke-width="1.7" />
<line x1="328.3" y1="501.1" x2="333.2" y2="501.1" stroke="#111" stroke-width="1.5" />
<g transform="translate(323.4,505) scale(1.03,0.93)"><text x="0" y="0" font-size="12.6" text-anchor="end">0</text></g>
<line x1="328.3" y1="479.93" x2="333.2" y2="479.93" stroke="#111" stroke-width="1.5" />
<g transform="translate(323.4,483.82) scale(1.03,0.93)"><text x="0" y="0" font-size="12.6" text-anchor="end">50</text></g>
<line x1="328.3" y1="458.75" x2="333.2" y2="458.75" stroke="#111" stroke-width="1.5" />
<g transform="translate(323.4,462.65) scale(1.03,0.93)"><text x="0" y="0" font-size="12.6" text-anchor="end">100</text></g>
<line x1="328.3" y1="437.58" x2="333.2" y2="437.58" stroke="#111" stroke-width="1.5" />
<g transform="translate(323.4,441.48) scale(1.03,0.93)"><text x="0" y="0" font-size="12.6" text-anchor="end">150</text></g>
<line x1="328.3" y1="416.4" x2="333.2" y2="416.4" stroke="#111" stroke-width="1.5" />
<g transform="translate(323.4,420.3) scale(1.03,0.93)"><text x="0" y="0" font-size="12.6" text-anchor="end">200</text></g>
<line x1="328.3" y1="395.23" x2="333.2" y2="395.23" stroke="#111" stroke-width="1.5" />
<g transform="translate(323.4,399.12) scale(1.03,0.93)"><text x="0" y="0" font-size="12.6" text-anchor="end">250</text></g>
<line x1="328.3" y1="374.05" x2="333.2" y2="374.05" stroke="#111" stroke-width="1.5" />
<g transform="translate(323.4,377.95) scale(1.03,0.93)"><text x="0" y="0" font-size="12.6" text-anchor="end">300</text></g>
<line x1="328.3" y1="352.88" x2="333.2" y2="352.88" stroke="#111" stroke-width="1.5" />
<g transform="translate(323.4,356.77) scale(1.03,0.93)"><text x="0" y="0" font-size="12.6" text-anchor="end">350</text></g>
<line x1="328.3" y1="331.7" x2="333.2" y2="331.7" stroke="#111" stroke-width="1.5" />
<g transform="translate(323.4,335.6) scale(1.03,0.93)"><text x="0" y="0" font-size="12.6" text-anchor="end">400</text></g>
<line x1="358.9" y1="501.1" x2="358.9" y2="505.6" stroke="#111" stroke-width="1.6" />
<line x1="398.2" y1="501.1" x2="398.2" y2="505.6" stroke="#111" stroke-width="1.6" />
<line x1="437" y1="501.1" x2="437" y2="505.6" stroke="#111" stroke-width="1.6" />
<line x1="475.7" y1="501.1" x2="475.7" y2="505.6" stroke="#111" stroke-width="1.6" />
<text transform="translate(368.1,518.4) rotate(-45)" font-size="12.5" stroke="#111" stroke-width="0.25" text-anchor="end">CP<tspan font-size="9.5" dy="2.5" dx="0.3">BL</tspan></text>
<text transform="translate(405.8,518.88) rotate(-45)" font-size="12.5" stroke="#111" stroke-width="0.25" text-anchor="end">CP<tspan font-size="9.5" dy="2.5" dx="0.3">VOC</tspan></text>
<text transform="translate(446.2,518.4) rotate(-45)" font-size="12.5" stroke="#111" stroke-width="0.25" text-anchor="end">NCP<tspan font-size="9.5" dy="2.5" dx="0.3">BL</tspan></text>
<text transform="translate(483.3,518.88) rotate(-45)" font-size="12.5" stroke="#111" stroke-width="0.25" text-anchor="end">NCP<tspan font-size="9.5" dy="2.5" dx="0.3">VOC</tspan></text>
<polyline points="437.2,416 437.2,321.2 476.1,321.2 476.1,329.8" fill="none" stroke="#111" stroke-width="1.6"/>
<text x="456.65" y="315" font-size="12.7" text-anchor="middle" font-weight="normal" >0.0071</text>
<rect x="0.6" y="0.6" width="518.8" height="561.8" fill="none" stroke="#000" stroke-width="1.2"/>
</svg>
</body></html>
